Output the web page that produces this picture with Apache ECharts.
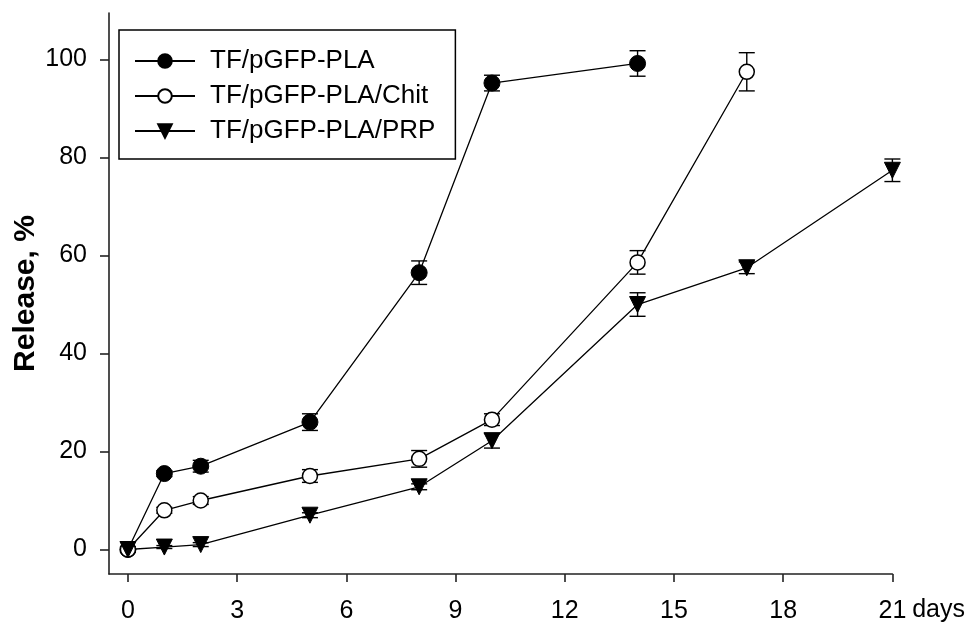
<!DOCTYPE html>
<html><head><meta charset="utf-8">
<script src="https://cdn.jsdelivr.net/npm/echarts@6/dist/echarts.min.js"></script>
<style>html,body{margin:0;padding:0;background:#fff}#c{width:968px;height:624px}</style>
</head><body><div id="c"></div>
<script>
const xTicks = [0, 3, 6, 9, 12, 15, 18, 21];
const yTicks = [0, 20, 40, 60, 80, 100];

const plaDays = [0, 1, 2, 5, 8, 10, 14];
const plaVals = [0, 15.5, 17, 26, 56.5, 95.2, 99.2];
const plaErr  = [0.5, 0.6, 1.2, 1.7, 2.4, 1.6, 2.6];

const chitDays = [0, 1, 2, 5, 8, 10, 14, 17];
const chitVals = [0, 8, 10, 15, 18.5, 26.5, 58.6, 97.5];
const chitErr  = [0.5, 0.6, 0.8, 1.3, 1.7, 1.2, 2.4, 3.9];

const prpDays = [0, 1, 2, 5, 8, 10, 14, 17, 21];
const prpVals = [0, 0.5, 1, 7, 12.8, 22.2, 50, 57.5, 77.4];
const prpErr  = [0.3, 0.3, 0.4, 0.5, 0.6, 1.5, 2.4, 1.2, 2.3];

const names = ['TF/pGFP-PLA', 'TF/pGFP-PLA/Chit', 'TF/pGFP-PLA/PRP'];

const FONT = 'Liberation Sans, Arial, sans-serif';

function pts(days, vals) { return days.map((d, i) => [d, vals[i]]); }
function errs(days, vals, e) { return days.map((d, i) => [d, vals[i] - e[i], vals[i] + e[i]]); }

function errSeries(days, vals, e) {
  return {
    type: 'custom', z: 1, silent: true,
    data: errs(days, vals, e),
    renderItem: function (params, api) {
      const lo = api.coord([api.value(0), api.value(1)]);
      const hi = api.coord([api.value(0), api.value(2)]);
      const w = 8;
      const st = { stroke: '#000', lineWidth: 1.4 };
      return { type: 'group', children: [
        { type: 'line', shape: { x1: lo[0], y1: lo[1], x2: hi[0], y2: hi[1] }, style: st },
        { type: 'line', shape: { x1: lo[0] - w, y1: lo[1], x2: lo[0] + w, y2: lo[1] }, style: st },
        { type: 'line', shape: { x1: hi[0] - w, y1: hi[1], x2: hi[0] + w, y2: hi[1] }, style: st }
      ]};
    }
  };
}

const chart = echarts.init(document.getElementById('c'));
chart.setOption({
  animation: false,
  backgroundColor: '#fff',
  textStyle: { fontFamily: FONT, color: '#000' },
  grid: { left: 109, right: 75, top: 13, bottom: 49 },
  legend: {
    orient: 'vertical', left: 119, top: 30,
    data: names,
    borderColor: '#000', borderWidth: 1.5, borderRadius: 0,
    padding: [18, 20, 15, 15],
    itemWidth: 60, itemHeight: 17, itemGap: 9,
    textStyle: { fontFamily: FONT, fontSize: 26, color: '#000', padding: [0, 0, 0, 10] }
  },
  xAxis: {
    type: 'value', min: -0.52, max: 21,
    name: 'days', nameLocation: 'end', nameGap: 18,
    nameTextStyle: { fontFamily: FONT, fontSize: 25, color: '#000', verticalAlign: 'top', align: 'left', padding: [24, 0, 0, 0] },
    axisLine: { onZero: false, lineStyle: { color: '#222', width: 1.6 } },
    axisTick: { show: true, inside: false, length: 8, customValues: xTicks, lineStyle: { color: '#222', width: 1.6 } },
    axisLabel: { customValues: xTicks, margin: 25, fontSize: 25, fontFamily: FONT, color: '#000' },
    splitLine: { show: false }
  },
  yAxis: {
    type: 'value', min: -5, max: 109.5,
    name: 'Release, %', nameLocation: 'middle', nameGap: 68, nameRotate: 90,
    nameMoveOverlap: false,
    nameTextStyle: { fontFamily: FONT, fontSize: 30, fontWeight: 'bold', color: '#000' },
    axisLine: { show: true, onZero: false, lineStyle: { color: '#222', width: 1.6 } },
    axisTick: { show: true, inside: false, length: 9, customValues: yTicks, lineStyle: { color: '#222', width: 1.6 } },
    axisLabel: { customValues: yTicks, margin: 22, fontSize: 25, fontFamily: FONT, color: '#000' },
    splitLine: { show: false }
  },
  series: [
    errSeries(plaDays, plaVals, plaErr),
    errSeries(chitDays, chitVals, chitErr),
    errSeries(prpDays, prpVals, prpErr),
    {
      name: names[0], type: 'line', z: 3, data: pts(plaDays, plaVals),
      symbol: 'circle', symbolSize: 16,
      itemStyle: { color: '#000', borderColor: '#000', borderWidth: 1 },
      lineStyle: { color: '#000', width: 1.3 }
    },
    {
      name: names[1], type: 'line', z: 3, data: pts(chitDays, chitVals),
      symbol: 'circle', symbolSize: 15,
      itemStyle: { color: '#fff', borderColor: '#000', borderWidth: 1.5 },
      lineStyle: { color: '#000', width: 1.3 }
    },
    {
      name: names[2], type: 'line', z: 3, data: pts(prpDays, prpVals),
      symbol: 'triangle', symbolRotate: 180, symbolSize: 16,
      itemStyle: { color: '#000', borderColor: '#000', borderWidth: 1 },
      lineStyle: { color: '#000', width: 1.3 }
    }
  ]
});
</script></body></html>
